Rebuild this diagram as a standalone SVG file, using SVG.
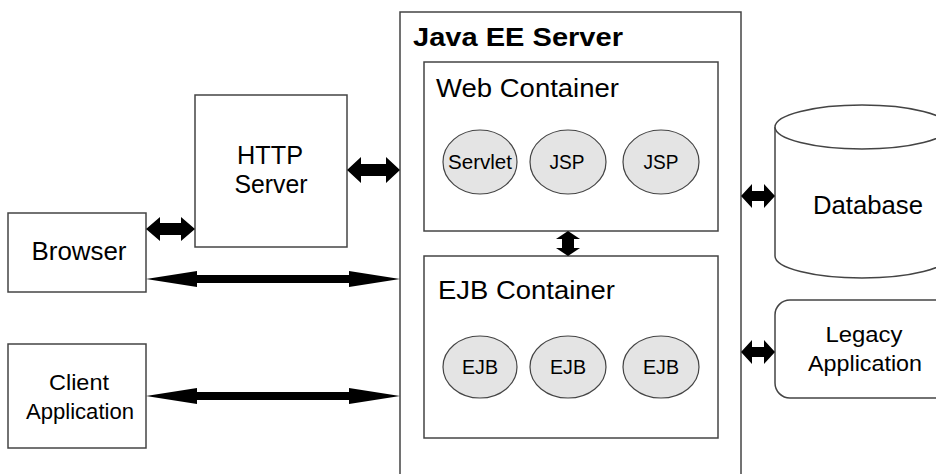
<svg xmlns="http://www.w3.org/2000/svg" width="936" height="474" viewBox="0 0 936 474">
<style>
.box{fill:#fff;stroke:#444;stroke-width:1.5}
.comp{fill:#e4e4e4;stroke:#444;stroke-width:1.2}
.t{font-family:"Liberation Sans",Arial,sans-serif;fill:#000;font-size:26px}
.s{font-family:"Liberation Sans",Arial,sans-serif;fill:#000;font-size:20px}
.m{font-family:"Liberation Sans",Arial,sans-serif;fill:#000;font-size:22.5px}
.arr{fill:#000}
</style>
<rect width="936" height="474" fill="#fff"/>
<g id="javaee">
<rect class="box" x="400" y="12" width="341" height="475"/>
<text class="t" x="413" y="46" font-weight="bold" font-size="27" textLength="210" lengthAdjust="spacingAndGlyphs">Java EE Server</text>
</g>
<g id="web">
<rect class="box" x="424" y="62" width="294" height="169"/>
<text class="t" x="436" y="97" textLength="183" lengthAdjust="spacingAndGlyphs">Web Container</text>
</g>
<g id="servlet">
<ellipse class="comp" cx="480" cy="162" rx="37" ry="32"/>
<text class="s" x="480" y="169" text-anchor="middle" textLength="64" lengthAdjust="spacingAndGlyphs">Servlet</text>
</g>
<g id="jsp1">
<ellipse class="comp" cx="568" cy="162" rx="38" ry="32"/>
<text class="s" x="567" y="169" text-anchor="middle" textLength="35" lengthAdjust="spacingAndGlyphs">JSP</text>
</g>
<g id="jsp2">
<ellipse class="comp" cx="661" cy="162" rx="38" ry="32"/>
<text class="s" x="661" y="169" text-anchor="middle" textLength="35" lengthAdjust="spacingAndGlyphs">JSP</text>
</g>
<g id="ejbc">
<rect class="box" x="424" y="256" width="294" height="182"/>
<text class="t" x="438" y="299" textLength="177" lengthAdjust="spacingAndGlyphs">EJB Container</text>
</g>
<g id="ejb1">
<ellipse class="comp" cx="480" cy="367" rx="37" ry="31"/>
<text class="s" x="480" y="374" text-anchor="middle" textLength="36" lengthAdjust="spacingAndGlyphs">EJB</text>
</g>
<g id="ejb2">
<ellipse class="comp" cx="568" cy="367" rx="38" ry="31"/>
<text class="s" x="568" y="374" text-anchor="middle" textLength="36" lengthAdjust="spacingAndGlyphs">EJB</text>
</g>
<g id="ejb3">
<ellipse class="comp" cx="661" cy="367" rx="38" ry="31"/>
<text class="s" x="661" y="374" text-anchor="middle" textLength="36" lengthAdjust="spacingAndGlyphs">EJB</text>
</g>
<g id="http">
<rect class="box" x="195" y="95" width="152" height="152"/>
<text class="t" x="270" y="164" text-anchor="middle" textLength="66" lengthAdjust="spacingAndGlyphs">HTTP</text>
<text class="t" x="271" y="193" text-anchor="middle" textLength="73" lengthAdjust="spacingAndGlyphs">Server</text>
</g>
<g id="browser">
<rect class="box" x="8" y="213" width="138" height="79"/>
<text class="t" x="79" y="260" text-anchor="middle" textLength="95" lengthAdjust="spacingAndGlyphs">Browser</text>
</g>
<g id="client">
<rect class="box" x="8" y="344" width="138" height="104"/>
<text class="m" x="79" y="390" text-anchor="middle" textLength="60" lengthAdjust="spacingAndGlyphs">Client</text>
<text class="m" x="80" y="419" text-anchor="middle" textLength="108" lengthAdjust="spacingAndGlyphs">Application</text>
</g>
<g id="database">
<path class="box" d="M775,127 L775,256 A87,22 0 0 0 949,256 L949,127"/>
<ellipse class="box" cx="862" cy="127" rx="87" ry="22"/>
<text class="t" x="868" y="214" text-anchor="middle" textLength="110" lengthAdjust="spacingAndGlyphs">Database</text>
</g>
<g id="legacy">
<rect class="box" x="775" y="300" width="180" height="98" rx="15" ry="15"/>
<text class="m" x="864" y="342" text-anchor="middle" textLength="77" lengthAdjust="spacingAndGlyphs">Legacy</text>
<text class="m" x="865" y="371" text-anchor="middle" textLength="114" lengthAdjust="spacingAndGlyphs">Application</text>
</g>
<g id="connectors">
<polygon class="arr" points="146,229 160,217 160,223 181,223 181,217 195,229 181,241 181,235 160,235 160,241"/>
<polygon class="arr" points="347,170 361,157 361,164 386,164 386,157 400,170 386,183 386,176 361,176 361,183"/>
<polygon class="arr" points="146,279 197,271 197,275 349,275 349,271 400,279 349,287 349,283 197,283 197,287"/>
<polygon class="arr" points="146,396 197,388 197,392 349,392 349,388 400,396 349,404 349,400 197,400 197,404"/>
<polygon class="arr" points="568,231 580,239 574,239 574,248 580,248 568,256 556,248 562,248 562,239 556,239"/>
<polygon class="arr" points="741,196 752,184 752,191 764,191 764,184 775,196 764,208 764,201 752,201 752,208"/>
<polygon class="arr" points="741,352 752,340 752,347 764,347 764,340 775,352 764,364 764,357 752,357 752,364"/>
</g>
</svg>
